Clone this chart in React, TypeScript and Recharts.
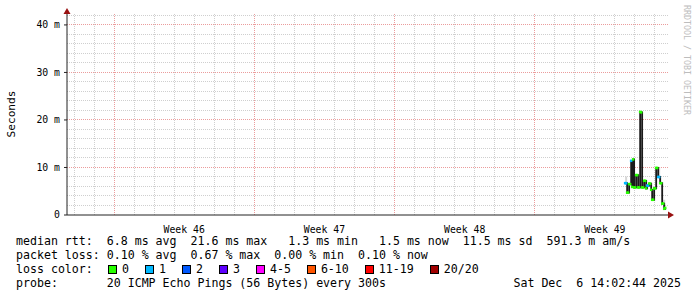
import React from 'react';
import { ComposedChart, Line, Area, XAxis, YAxis, ReferenceLine, ReferenceDot } from 'recharts';

const W = 697;
const H = 297;
const MONO = '"DejaVu Sans Mono", monospace';

/* ── data: 30-day window, x = days since left edge (one column ≈ 1.2 h) ── */
const times = [
  27.86, 27.91, 27.96, 28.01, 28.06, 28.11, 28.16, 28.21, 28.26, 28.31,
  28.36, 28.41, 28.46, 28.51, 28.56, 28.61, 28.66, 28.71, 28.76, 28.81,
  28.86, 28.91, 28.96, 29.01, 29.06, 29.11, 29.16, 29.21, 29.26, 29.31,
  29.36, 29.41, 29.46, 29.51, 29.56, 29.61, 29.66, 29.71, 29.76, 29.81,
  29.86,
];
// median rtt, ms
const medianMs = [
  6.7, 6.7, 4.7, 4.7, 6.5, 6.5, 11.4, 5.9, 11.7, 5.8,
  5.8, 8.4, 8.4, 5.8, 5.8, 21.7, 21.6, 5.8, 5.8, 7.2,
  7.2, 5.6, 6.2, 6.2, 6.6, 6.6, 5.3, 3.2, 3.2, 5.6,
  5.6, 9.9, 9.9, 8.0, 8.0, 6.7, 6.7, 2.4, 2.4, 1.3,
  1.5,
];
// loss bucket per column (index into lossLabels / lossColors)
const lossBucket = [
  1, 1, 0, 0, 0, 0, 1, 0, 0, 0,
  0, 0, 0, 0, 0, 0, 0, 0, 0, 0,
  0, 0, 1, 1, 0, 0, 0, 0, 0, 0,
  0, 0, 0, 1, 1, 0, 0, 0, 0, 0,
  0,
];
// visible smoke (min/max spread), ms; null = hidden behind the median
const smokeLo = [
  6.3, 6.3, 6.3, null, null, null, null, 9.7, 9.7, 9.7,
  null, null, null, null, null, null, null, null, null, null,
  null, null, null, null, null, null, null, null, null, null,
  null, null, null, 7.8, 7.8, 7.8, null, null, 1.4, 1.4,
  1.4,
];
const smokeHi = [
  8.1, 8.1, 8.1, null, null, null, null, 11.8, 11.8, 11.8,
  null, null, null, null, null, null, null, null, null, null,
  null, null, null, null, null, null, null, null, null, null,
  null, null, null, 10.1, 10.1, 10.1, null, null, 3.2, 3.2,
  3.2,
];

const weekLabels = ['Week 46', 'Week 47', 'Week 48', 'Week 49'];
const weekStarts = [2.35, 9.35, 16.35, 23.35];
const yTicks = [0, 10, 20, 30, 40];
const yMinor = [2, 4, 6, 8, 12, 14, 16, 18, 22, 24, 26, 28, 32, 34, 36, 38, 42];
const Y_MAX = 42.3;
const X_MAX = 30;

const lossLabels = ['0', '1', '2', '3', '4-5', '6-10', '11-19', '20/20'];
const lossColors = ['#26ff00', '#00b8ff', '#0059ff', '#5e00ff', '#ff00ff', '#ff5500', '#ff0000', '#a10000'];

const statsRtt = 'median rtt:  6.8 ms avg  21.6 ms max   1.3 ms min   1.5 ms now  11.5 ms sd  591.3 m am/s';
const statsLoss = 'packet loss: 0.10 % avg  0.67 % max  0.00 % min  0.10 % now';
const probeText = 'probe:       20 ICMP Echo Pings (56 Bytes) every 300s';
const stampText = 'Sat Dec  6 14:02:44 2025';

const chartData = times.map((t, i) => ({
  t,
  median: medianMs[i],
  loss: lossBucket[i],
  smoke: smokeLo[i] != null ? [smokeLo[i], smokeHi[i]] : null,
}));

const weekCenters = weekStarts.map(w => w + 3.5);
const dayLines = Array.from({ length: 30 }, (_, i) => 0.35 + i).filter(
  d => !weekStarts.some(w => Math.abs(w - d) < 0.01),
);

const MINOR = '#cfcfcf';
const MAJOR = '#eb9c9c';
const AXIS = '#222';
const ARROW = '#991111';

const LossDot = (p: any) => {
  if (p.cx == null || p.cy == null) return null;
  return <rect key={p.index} x={p.cx - 1.25} y={p.cy - 1.25} width={2.5} height={2.5} fill={lossColors[p.payload.loss]} />;
};

export default function App() {
  const tick = { fontSize: 9.8, fill: '#000', fontFamily: MONO };
  return (
    <div style={{ position: 'absolute', left: 0, top: 0, width: W, height: H, background: '#fff', fontFamily: MONO }}>
      <ComposedChart width={W} height={H} data={chartData} margin={{ top: 14, right: 29, left: 0, bottom: 62 }}>
        {dayLines.map(d => (
          <ReferenceLine key={`d${d}`} x={d} stroke={MINOR} strokeDasharray="1 1" shapeRendering="crispEdges" />
        ))}
        {yMinor.map(v => (
          <ReferenceLine key={`y${v}`} y={v} stroke={MINOR} strokeDasharray="1 1" shapeRendering="crispEdges" />
        ))}
        {weekStarts.map(d => (
          <ReferenceLine key={`w${d}`} x={d} stroke={MAJOR} strokeDasharray="1 1" shapeRendering="crispEdges" />
        ))}
        {yTicks.filter(v => v > 0).map(v => (
          <ReferenceLine key={`m${v}`} y={v} stroke={MAJOR} strokeDasharray="1 1" shapeRendering="crispEdges" />
        ))}
        <XAxis
          dataKey="t"
          type="number"
          domain={[0, X_MAX]}
          ticks={weekCenters}
          tickFormatter={(v: number) => weekLabels[weekCenters.indexOf(v)] ?? ''}
          tick={tick}
          tickLine={false}
          tickMargin={5}
          height={20}
          axisLine={{ stroke: AXIS }}
          allowDataOverflow
        />
        <YAxis
          type="number"
          domain={[0, Y_MAX]}
          ticks={yTicks}
          tickFormatter={(v: number) => (v === 0 ? '0' : `${v} m`)}
          tick={tick}
          tickSize={3}
          tickMargin={4}
          tickLine={{ stroke: AXIS }}
          axisLine={{ stroke: AXIS }}
          width={67}
          allowDataOverflow
        />
        <Area
          type="stepAfter"
          dataKey="smoke"
          stroke="none"
          fill="#d6d6d6"
          fillOpacity={1}
          isAnimationActive={false}
        />
        <Line
          type="stepAfter"
          dataKey="median"
          stroke="#1a1a1a"
          strokeWidth={1.8}
          dot={LossDot}
          activeDot={false}
          isAnimationActive={false}
        />
        <ReferenceDot
          x={X_MAX}
          y={0}
          r={0}
          ifOverflow="visible"
          shape={(p: any) => <path d={`M${p.cx} ${p.cy - 3.5} L${p.cx + 6} ${p.cy} L${p.cx} ${p.cy + 3.5} Z`} fill={ARROW} />}
        />
        <ReferenceDot
          x={0}
          y={Y_MAX}
          r={0}
          ifOverflow="visible"
          shape={(p: any) => <path d={`M${p.cx - 3.5} ${p.cy} L${p.cx} ${p.cy - 6} L${p.cx + 3.5} ${p.cy} Z`} fill={ARROW} />}
        />
      </ComposedChart>

      {/* unit label */}
      <div style={{
        position: 'absolute', left: 11, top: 114, transform: 'translate(-50%, -50%) rotate(-90deg)',
        fontSize: 11.2, color: '#000', whiteSpace: 'pre',
      }}>Seconds</div>

      {/* watermark */}
      <div style={{
        position: 'absolute', left: 687, top: 60, transform: 'translate(-50%, -50%) rotate(90deg)',
        fontSize: 8.3, color: '#bdbdbd', whiteSpace: 'pre',
      }}>RRDTOOL / TOBI OETIKER</div>

      {/* legend */}
      <div style={{ position: 'absolute', left: 16, top: 234, width: 681 - 16, fontSize: 11.6, lineHeight: '14px', color: '#000', whiteSpace: 'pre' }}>
        <div>{statsRtt}</div>
        <div>{statsLoss}</div>
        <div style={{ display: 'flex', alignItems: 'center' }}>
          <span style={{ width: 92, display: 'inline-block' }}>loss color:</span>
          {lossLabels.map((l, i) => (
            <span key={l} style={{ display: 'inline-flex', alignItems: 'center', marginRight: 16 }}>
              <span style={{ width: 7, height: 7, border: '1px solid #000', background: lossColors[i], marginRight: 5, display: 'inline-block' }} />
              {l}
            </span>
          ))}
        </div>
        <div style={{ display: 'flex', justifyContent: 'space-between' }}>
          <span>{probeText}</span>
          <span>{stampText}</span>
        </div>
      </div>
    </div>
  );
}
